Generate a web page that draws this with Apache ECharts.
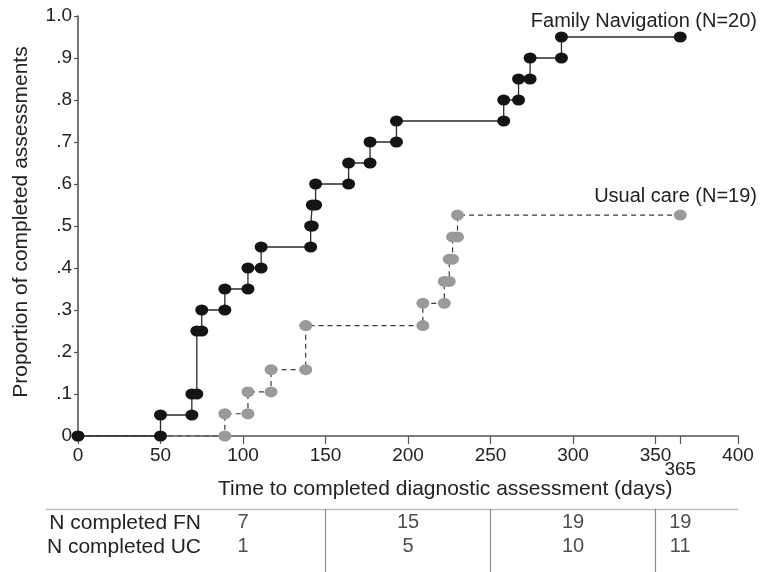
<!DOCTYPE html>
<html><head><meta charset="utf-8">
<script src="https://cdn.jsdelivr.net/npm/echarts@6/dist/echarts.min.js"></script>
<style>html,body{margin:0;padding:0;background:#fff}#c{width:769px;height:572px}</style>
</head><body><div id="c"></div>
<script>
// ---- data ----
const fnDays = [0, 50, 69, 72, 75, 89, 103, 111, 141, 142, 144, 164, 177, 193, 258, 267, 274, 293, 365];
const fnProp = [0, 0.05, 0.10, 0.25, 0.30, 0.35, 0.40, 0.45, 0.50, 0.55, 0.60, 0.65, 0.70, 0.75, 0.80, 0.85, 0.90, 0.95, 0.95];
const ucDays = [0, 89, 103, 117, 138, 209, 222, 225, 227, 230, 365];
const ucProp = [0, 0.053, 0.105, 0.158, 0.263, 0.316, 0.368, 0.421, 0.474, 0.526, 0.526];
const yTickLabels = ['0', '.1', '.2', '.3', '.4', '.5', '.6', '.7', '.8', '.9', '1.0'];
const extraTick = [365];
const fnName = 'Family Navigation (N=20)';
const ucName = 'Usual care (N=19)';
const xTitle = 'Time to completed diagnostic assessment (days)';
const yTitle = 'Proportion of completed assessments';
const tableRows = ['N completed FN', 'N completed UC'];
const tableCols = [100, 200, 300, 365];
const fnCompleted = [7, 15, 19, 19];
const ucCompleted = [1, 5, 10, 11];
const dividers = [150, 250, 350];

// ---- helpers ----
function steps(days, props) {
  const pts = [[days[0], props[0]]];
  for (let i = 1; i < days.length; i++) {
    if (props[i] !== props[i - 1]) {
      pts.push([days[i], props[i - 1]]);
      pts.push([days[i], props[i]]);
    } else {
      pts.push([days[i], props[i]]);
    }
  }
  return pts;
}
const FONT = '"Liberation Sans", Arial, sans-serif';
const TXT = '#222';

const tableData = [];
tableCols.forEach((d, i) => {
  tableData.push({ value: [d, 0], txt: fnCompleted[i] });
  tableData.push({ value: [d, 1], txt: ucCompleted[i] });
});

const chart = echarts.init(document.getElementById('c'), null, { renderer: 'canvas' });
chart.setOption({
  animation: false,
  backgroundColor: '#fff',
  textStyle: { fontFamily: FONT },
  grid: [
    { left: 78, right: 31, top: 16, bottom: 136 },
    { left: 78, right: 31, top: 509, bottom: 0 }
  ],
  xAxis: [
    {
      gridIndex: 0, type: 'value', min: 0, max: 400, interval: 50,
      axisLine: { lineStyle: { color: '#555', width: 1.6 } },
      axisTick: { length: 8, lineStyle: { color: '#555', width: 1.2 } },
      axisLabel: { fontSize: 19, color: TXT, margin: 10, fontFamily: FONT },
      splitLine: { show: false }
    },
    {
      gridIndex: 0, type: 'value', min: 0, max: 400, position: 'bottom',
      axisLine: { show: false },
      axisTick: { show: true, length: 8, customValues: extraTick, lineStyle: { color: '#555', width: 1.2 } },
      axisLabel: { show: true, customValues: extraTick, fontSize: 19, color: TXT, margin: 24, fontFamily: FONT },
      splitLine: { show: false }
    },
    {
      gridIndex: 1, type: 'value', min: 0, max: 400, show: false
    }
  ],
  yAxis: [
    {
      gridIndex: 0, type: 'value', min: 0, max: 1, interval: 0.1,
      name: yTitle, nameLocation: 'middle', nameGap: 46, nameRotate: 90,
      nameTextStyle: { fontSize: 21, color: TXT, fontFamily: FONT, padding: [0, 0, 0, 8] },
      axisLine: { show: true, lineStyle: { color: '#555', width: 1.6 } },
      axisTick: { show: true, length: 4, lineStyle: { color: '#555', width: 1.2 } },
      axisLabel: { fontSize: 19, color: TXT, margin: 6, fontFamily: FONT,
        formatter: v => yTickLabels[Math.round(v * 10)] },
      splitLine: { show: false }
    },
    {
      gridIndex: 1, type: 'value', min: -0.55, max: 2.05, inverse: true, show: false
    }
  ],
  series: [
    {
      name: ucName, type: 'line', xAxisIndex: 0, yAxisIndex: 0,
      data: steps(ucDays, ucProp), symbol: 'circle', symbolSize: [13, 11], showAllSymbol: true,
      itemStyle: { color: '#9a9a9a' },
      lineStyle: { color: '#3a3a3a', width: 1.2, type: [5, 4] },
      z: 2
    },
    {
      name: fnName, type: 'line', xAxisIndex: 0, yAxisIndex: 0,
      data: steps(fnDays, fnProp), symbol: 'circle', symbolSize: [13, 11], showAllSymbol: true,
      itemStyle: { color: '#141414' },
      lineStyle: { color: '#2a2a2a', width: 1.3 },
      z: 3
    },
    {
      type: 'scatter', xAxisIndex: 2, yAxisIndex: 1, symbolSize: 0,
      data: tableData,
      label: { show: true, position: 'inside', fontSize: 20, color: TXT, fontFamily: FONT,
        formatter: p => String(p.data.txt) },
      markLine: {
        silent: true, symbol: 'none', label: { show: false },
        lineStyle: { color: '#8a8a8a', width: 1.2, type: 'solid' },
        data: dividers.map(d => ({ xAxis: d }))
      }
    }
  ],
  graphic: [
    { type: 'text', right: 12, top: 11, style: { text: fnName, fill: TXT, font: '20px ' + FONT } },
    { type: 'text', right: 12, top: 186, style: { text: ucName, fill: TXT, font: '20px ' + FONT } },
    { type: 'text', left: 218, top: 479, style: { text: xTitle, fill: TXT, font: '21px ' + FONT } },
    { type: 'line', shape: { x1: 46, y1: 509.5, x2: 738, y2: 509.5 }, style: { stroke: '#bdbdbd', lineWidth: 1.6 } },
    { type: 'text', x: 201, y: 523, style: { text: tableRows[0], align: 'right', verticalAlign: 'middle', fill: TXT, font: '21px ' + FONT } },
    { type: 'text', x: 201, y: 547, style: { text: tableRows[1], align: 'right', verticalAlign: 'middle', fill: TXT, font: '21px ' + FONT } }
  ]
});
</script></body></html>
